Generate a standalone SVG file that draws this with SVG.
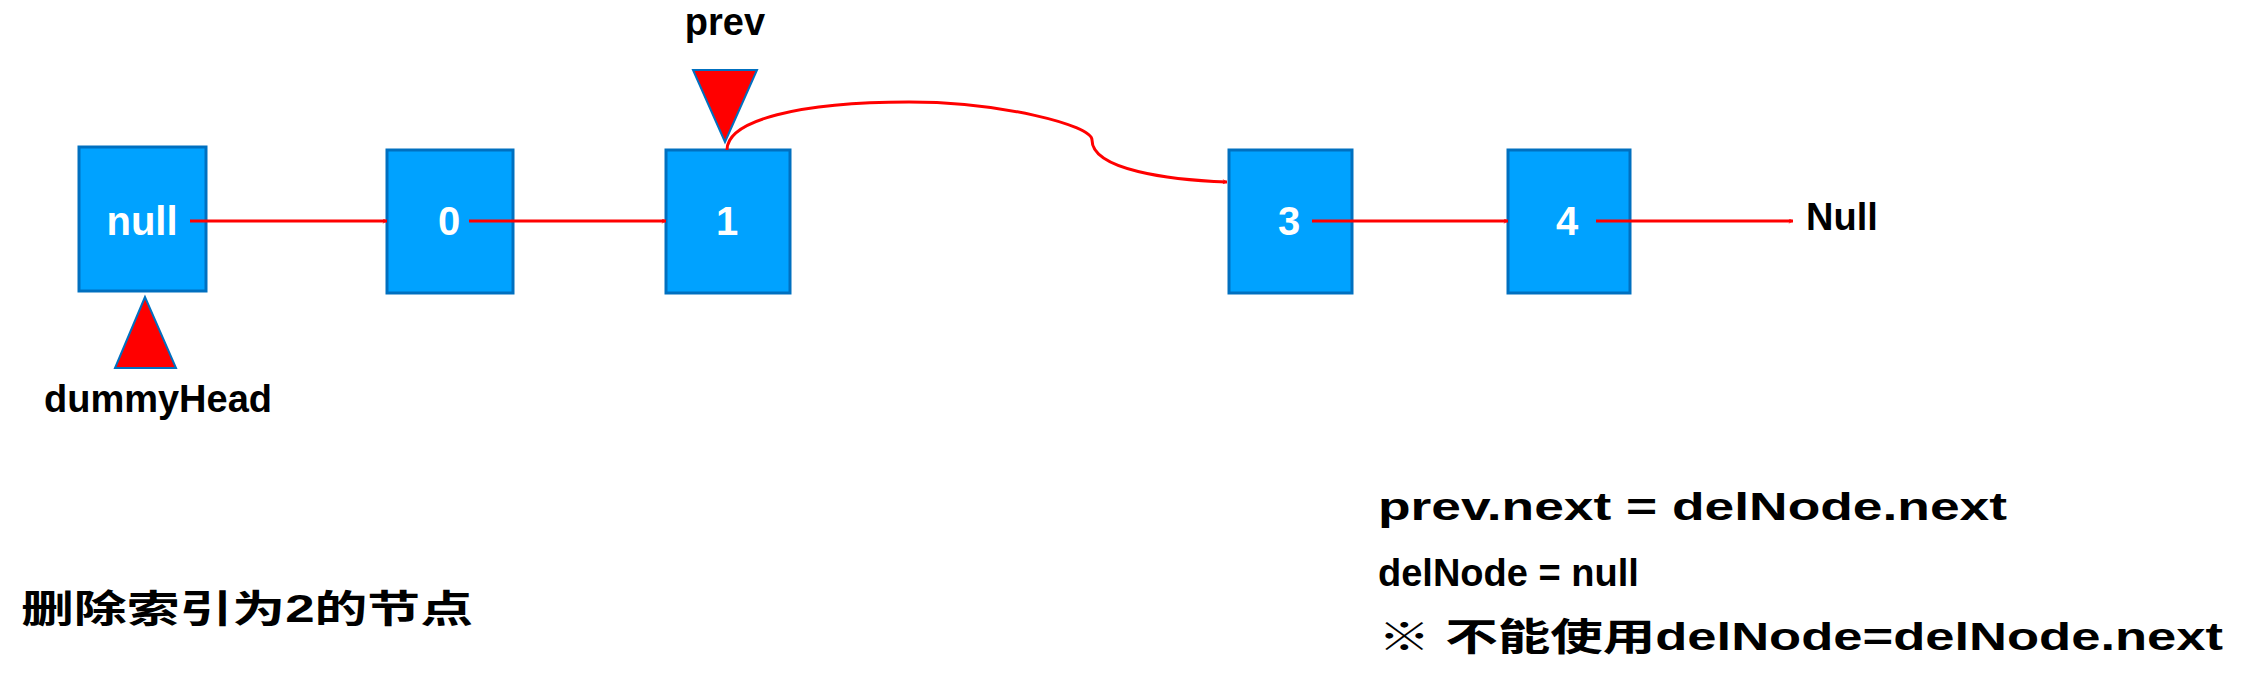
<svg xmlns="http://www.w3.org/2000/svg" width="2244" height="678" viewBox="0 0 2244 678">
<style>
.n{fill:#00A2FF;stroke:#0070C0;stroke-width:3}
.nt{font-family:"Liberation Sans",Arial,sans-serif;font-weight:bold;font-size:40px;fill:#fff;text-anchor:middle}
.t{font-family:"Liberation Sans","Noto Sans CJK SC",sans-serif;font-weight:bold;font-size:38px;fill:#000}
.c{stroke:#FF0000;stroke-width:3;fill:none;marker-end:url(#a)}
.tri{fill:#FF0000;stroke:#0070C0;stroke-width:2}
</style>
<defs><marker id="a" viewBox="0 0 12 12" refX="11" refY="6" markerWidth="5" markerHeight="5" orient="auto" markerUnits="userSpaceOnUse"><path d="M1,1 L11,6 L1,11" fill="none" stroke="#FF0000" stroke-width="2"/></marker></defs>
<rect width="2244" height="678" fill="#fff"/>
<g id="n-null"><rect class="n" x="79" y="147" width="127" height="144"/><text class="nt" x="142" y="235">null</text></g>
<g id="n0"><rect class="n" x="387" y="150" width="126" height="143"/><text class="nt" x="449" y="235">0</text></g>
<g id="n1"><rect class="n" x="666" y="150" width="124" height="143"/><text class="nt" x="727" y="235">1</text></g>
<g id="n3"><rect class="n" x="1229" y="150" width="123" height="143"/><text class="nt" x="1289" y="235">3</text></g>
<g id="n4"><rect class="n" x="1508" y="150" width="122" height="143"/><text class="nt" x="1567" y="235">4</text></g>
<g id="prev"><polygon class="tri" points="693,70 757,70 725,142"/><text class="t" x="725" y="35" text-anchor="middle">prev</text></g>
<g id="dummyHead"><polygon class="tri" points="145,297 115,368 176,368"/><text class="t" x="158" y="412" text-anchor="middle">dummyHead</text></g>
<g id="nullEnd"><text class="t" x="1806" y="230">Null</text></g>
<g id="connectors">
<line class="c" x1="190" y1="221" x2="387" y2="221"/>
<line class="c" x1="469" y1="221" x2="666" y2="221"/>
<line class="c" x1="1312" y1="221" x2="1508" y2="221"/>
<line class="c" x1="1596" y1="221" x2="1793" y2="221"/>
<path class="c" d="M727,150 C727,120 800,102 909,102 C1000,102 1092,125 1092,140 C1092,170 1170,180 1227,182"/>
</g>
<g id="notes">
<text class="t" x="21" y="622" font-size="46" textLength="452" lengthAdjust="spacingAndGlyphs">删除索引为2的节点</text>
<text class="t" x="1378" y="520" font-size="44" textLength="629" lengthAdjust="spacingAndGlyphs">prev.next = delNode.next</text>
<text class="t" x="1378" y="586" font-size="44">delNode = null</text>
<text class="t" x="1378" y="650" font-size="44" textLength="845" lengthAdjust="spacingAndGlyphs">※ 不能使用delNode=delNode.next</text>
</g>
</svg>
